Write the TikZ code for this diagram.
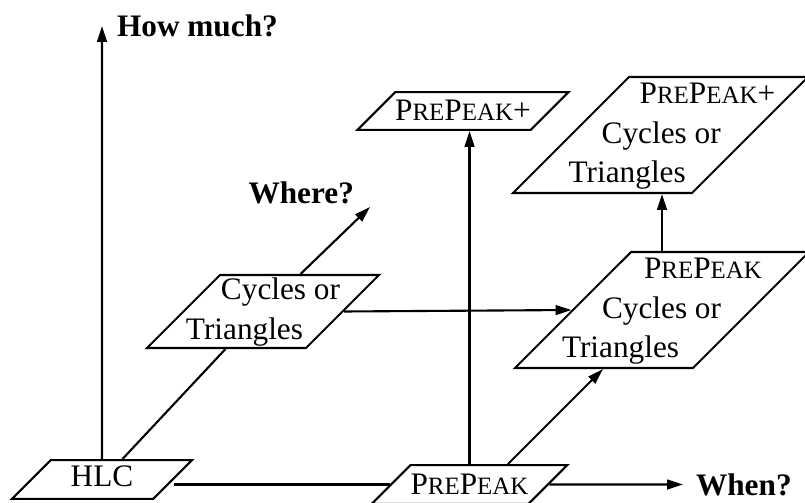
\documentclass[tikz,border=0pt]{standalone}
\usepackage{fontspec}
\setmainfont{Liberation Serif}
\usetikzlibrary{arrows.meta,shapes.geometric}
\newcommand{\scfont}{\fontsize{14.2}{17}\selectfont}
\newcommand{\prepeak}{P{\scfont RE}P{\scfont EAK}}
\newcommand{\boxlines}[1]{\smash{\makebox[0pt]{\raisebox{-4.45pt}{\begin{tabular}{@{}l@{}}#1\end{tabular}}}}}

\tikzset{
  para/.style 2 args={trapezium, trapezium left angle=45, trapezium right angle=135,
    trapezium stretches body, draw, inner sep=0pt, text height=#1, text depth=#2},
  qlabel/.style={font=\fontsize{17.8}{22.5}\selectfont\bfseries, inner sep=0pt}
}

\begin{document}
\begin{tikzpicture}[font=\fontsize{17.8}{22.5}\selectfont, line width=1.2pt,
    >={Triangle[length=9pt,width=5.5pt]}]
  \useasboundingbox (0,0) rectangle (16.1,10.04);
  \clip (0,0) rectangle (16.1,10.04);

  %% boxes
  \node[para={15.3pt}{6.8pt}, minimum width=3.6cm] (hlc) at (2.04,0.45) {HLC};
  \node[para={17pt}{5.1pt}, minimum width=3.54cm] (pp) at (9.39,0.35) {\prepeak};
  \node[para={16.4pt}{5.1pt}, minimum width=3.88cm] (ppplus) at (9.26,7.82) {\prepeak+};
  \node[para={0.73cm}{0.73cm}, minimum width=4.64cm] (cyc) at (5.26,3.81)
    {\boxlines{\hspace*{0.7cm}Cycles or\\Triangles}};
  \node[para={1.16cm}{1.16cm}, minimum width=5.88cm] (ppcyc) at (13.24,3.84)
    {\boxlines{\hspace*{1.64cm}\prepeak\\\hspace*{0.8cm}Cycles or\\Triangles}};
  \node[para={1.16cm}{1.16cm}, minimum width=5.9cm] (ppcycplus) at (13.21,7.34)
    {\boxlines{\hspace*{1.88cm}\prepeak+\\\hspace*{1.12cm}Cycles or\\\hspace*{0.46cm}Triangles}};

  %% axes
  \coordinate (howmuch) at (2.04,9.52);
  \coordinate (when) at (13.66,0.35);
  \coordinate (where) at (7.4,5.9);

  \draw[->] (hlc.north) -- (howmuch)
    node[qlabel, right=0.28cm] (howmuchlbl) {How much?};
  \draw (hlc.east |- pp.west) -- (pp.west);
  \draw[->] (pp.east) -- (when)
    node[qlabel, right=0.24cm] (whenlbl) {When?};
  \draw (hlc.top side) -- (cyc.bottom side);
  \draw[->] (cyc.top side) -- (where)
    node[qlabel, anchor=south east, xshift=-0.3cm, yshift=0.04cm] (wherelbl) {Where?};

  %% steps between boxes
  \draw[->] (cyc.east) -- (ppcyc.west);
  \draw[->] (pp.north) -- (pp.north |- ppplus.south);
  \draw[->] ([xshift=0.36cm]pp.top side) -- (ppcyc.bottom side);
  \draw[->] (ppcyc.north) -- (ppcyc.north |- ppcycplus.south);
\end{tikzpicture}
\end{document}
